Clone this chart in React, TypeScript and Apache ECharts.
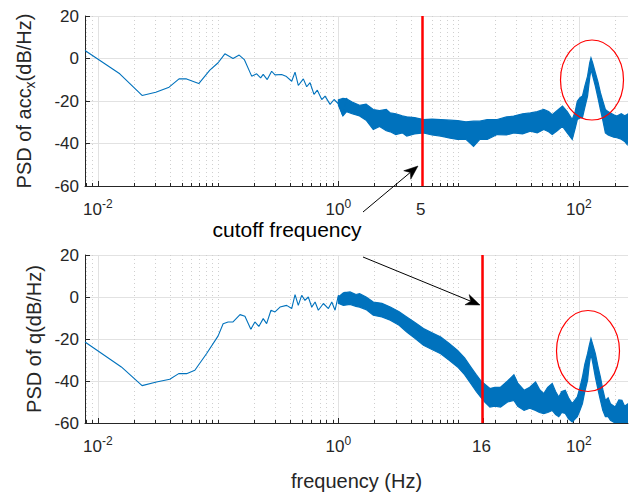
import React, { useEffect, useRef } from 'react';
import * as echarts from 'echarts';

// ---------- data ----------
const F_MIN = 1 / 128;
const F_MAX = 256;
const Y_MIN = -60;
const Y_MAX = 20;
const Y_STEP = 20;

const topTickFreqs = [0.01, 1, 5, 100];
const bottomTickFreqs = [0.01, 1, 16, 100];
const cutoffTop = 5;
const cutoffBottom = 16;

// PSD of acc_x : low-frequency single trace
const accLineF = [0.0078125, 0.0152, 0.0233, 0.0303, 0.0391, 0.0473, 0.0546, 0.069, 0.0853, 0.1, 0.1137, 0.133, 0.1496, 0.165, 0.19, 0.209, 0.2256, 0.237, 0.256, 0.2786, 0.297, 0.337, 0.366, 0.409, 0.436, 0.464, 0.511, 0.545, 0.581, 0.627, 0.668, 0.727, 0.775, 0.853, 0.92, 1.0, 1.087, 1.174];
const accLineDb = [3.8, -7.2, -17.4, -15.9, -13.5, -9.6, -9.6, -11.8, -5.5, -2.0, 2.2, 0, 1.6, -0.5, -8.3, -7.2, -9.1, -7.5, -9.9, -6.0, -7.7, -7.5, -8.3, -10.7, -6.4, -12.7, -9.6, -13.3, -11.4, -16.9, -14.9, -19.3, -17.7, -21.6, -19.3, -21.3, -27, -18.5];
// PSD of acc_x : dense noisy band (lower / upper envelope)
const accBandF = [1.0, 1.09, 1.17, 1.3, 1.5, 1.7, 1.95, 2.2, 2.5, 2.7, 3.0, 3.4, 3.7, 4.3, 5.1, 6.0, 7.1, 8.5, 9.8, 11.5, 13.3, 15, 17.3, 20.9, 25, 28.7, 34, 39.5, 45, 51, 56, 60, 66, 73, 80, 88, 93, 97, 102, 107, 112, 118, 123, 126, 130, 137, 144, 151, 158, 166, 175, 183, 195, 207, 225, 240, 252, 256];
const accBandHi = [-19.5, -18.8, -19, -20.5, -22, -21.5, -24, -24.5, -24, -25.6, -26, -27, -27.4, -27.8, -28.7, -28.5, -28.7, -29, -29.2, -29.8, -29.5, -29.5, -28.7, -28.7, -27.5, -27.1, -26, -25.6, -25, -24, -25, -26.4, -24.5, -22.4, -25, -28.7, -25, -20.1, -18.5, -17.7, -13, -8.3, -2, 0.3, -2, -6.7, -11, -16.1, -20, -24, -25, -25.6, -26.5, -27.1, -26, -27, -26.4, -26];
const accBandLo = [-22, -27, -25, -26, -27, -29, -33.4, -32, -34, -34.5, -35.8, -35, -36.5, -35.5, -35, -36, -36.5, -37.5, -38.1, -38, -41.4, -38, -38.1, -35.8, -36, -35, -35.5, -34.2, -35, -33.4, -34.5, -35.8, -34, -31.9, -35, -38.1, -33, -28.7, -28, -27.9, -23, -17.7, -9, -5.2, -8, -13, -18.5, -24, -29, -35, -36, -36.5, -37, -37.3, -38, -39, -40.5, -38];

// PSD of q : low-frequency single trace
const qLineF = [0.0078125, 0.01567, 0.0233, 0.0307, 0.0396, 0.047, 0.0546, 0.064, 0.08, 0.1, 0.11, 0.121, 0.133, 0.152, 0.167, 0.187, 0.202, 0.218, 0.237, 0.253, 0.275, 0.297, 0.327, 0.371, 0.409, 0.436, 0.464, 0.495, 0.527, 0.562, 0.6, 0.64, 0.681, 0.75, 0.826, 0.881, 0.938, 1.0, 1.066, 1.135, 1.21];
const qLineDb = [-21.4, -33.3, -42.2, -40.5, -39.2, -36.5, -36.5, -34.9, -27, -18.5, -12.7, -11.9, -11.9, -8.4, -9.2, -15.4, -11.9, -14, -10.3, -12.7, -6.3, -7.1, -4.8, -4, -5.5, 1.1, -4, 0.8, -1.6, 0, -4.8, -2.4, -6.3, -3.1, -5.5, -2.4, -6.3, 0.8, -2.4, 2.4, -0.8];
// PSD of q : dense noisy band
const qBandF = [1.0, 1.1, 1.25, 1.4, 1.5, 1.7, 1.95, 2.3, 2.7, 3.2, 3.7, 4.3, 5.1, 6, 7.1, 8.3, 9.8, 11.2, 12.6, 14, 15.2, 16.5, 18.2, 20, 22.3, 25.5, 28.8, 31, 35, 39, 43.6, 47, 51, 55, 60, 64, 68, 72, 77, 82, 88, 97, 102, 107, 112, 118, 122, 126, 131, 137, 144, 151, 158, 166, 175, 183, 200, 215, 228, 240, 256];
const qBandHi = [0, 2, 2.4, 1.2, 1.6, 0, -2.4, -3, -4.8, -7, -9.5, -12, -15, -17, -19, -22, -25.4, -29, -33.3, -37, -39.7, -41.5, -43.6, -43, -42.9, -40, -37, -41, -44.4, -43, -40.5, -44, -46, -43, -41.2, -45, -47.6, -45, -44.4, -48, -50.8, -47.6, -43, -38.1, -32, -27, -23, -19.8, -23, -27, -33, -38.1, -44, -49.2, -48, -50.8, -52.4, -49, -49.2, -52, -50.8];
const qBandLo = [-3, -4, -3.5, -4.5, -4.8, -6, -8.7, -9.5, -11.1, -13.5, -16.7, -19.5, -23, -25, -27, -30, -33.3, -37, -41.2, -45, -47.6, -50, -52.4, -52, -52.4, -50, -49.2, -52, -54, -53, -54, -55, -55.5, -55, -54, -56, -57, -55, -55.5, -58, -59.5, -57, -54, -50.8, -45, -39.7, -32, -27, -32, -38.1, -44, -49.2, -54, -57, -57, -58.7, -60, -60, -60, -60, -60];

// ---------- style ----------
const FONT = '"Liberation Sans", Arial, Helvetica, sans-serif';
const BLUE = '#0072BD';
const AXIS = '#262626';
const GRIDC = '#E2E2E2';
const MINORC = '#CFCFCF';
const RED = '#FF0000';

const lg = (v: number) => Math.log10(v);

const minorFreqs: number[] = [];
for (let d = -3; d <= 2; d++) {
  for (let k = 1; k <= 9; k++) {
    const f = k * Math.pow(10, d);
    if (f > F_MIN && f < F_MAX) minorFreqs.push(f);
  }
}

function pairs(fs: number[], ys: number[]) {
  return fs.map((f, i) => [lg(f), ys[i]]);
}

function tickLabel(v: number) {
  const r = Math.round(v);
  if (Math.abs(v - r) < 1e-6) return `{b|10}{s|${r}}`;
  return `{b|${Math.round(Math.pow(10, v))}}{s| }`;
}

function arrow(x1: number, y1: number, x2: number, y2: number) {
  const dx = x2 - x1, dy = y2 - y1;
  const len = Math.hypot(dx, dy);
  const ux = dx / len, uy = dy / len;
  const nx = -uy, ny = ux;
  const L = 14, W = 5.5, N = 10;
  const bx = x2 - L * ux, by = y2 - L * uy;
  const kx = x2 - N * ux, ky = y2 - N * uy;
  return [
    { type: 'line', z: 20, shape: { x1, y1, x2: kx, y2: ky }, style: { stroke: '#000', lineWidth: 1 } },
    {
      type: 'polygon', z: 20,
      shape: { points: [[x2, y2], [bx + W * nx, by + W * ny], [kx, ky], [bx - W * nx, by - W * ny]] },
      style: { fill: '#000', stroke: '#000', lineWidth: 0.5 },
    },
  ];
}

function xAxes(gridIndex: number, ticks: number[], withName: boolean) {
  const major = ticks.map(lg);
  const minor = minorFreqs.filter((f) => !ticks.some((t) => Math.abs(t - f) < 1e-9)).map(lg);
  return [
    {
      type: 'value', gridIndex, min: lg(F_MIN), max: lg(F_MAX), position: 'bottom',
      axisLine: { show: true, onZero: false, lineStyle: { color: AXIS, width: 1 } },
      axisTick: { show: true, inside: true, length: 5, customValues: major, lineStyle: { color: AXIS } },
      axisLabel: {
        show: true, customValues: major, formatter: tickLabel, margin: 12,
        rich: {
          b: { fontSize: 17, fontFamily: FONT, color: AXIS },
          s: { fontSize: 12, fontFamily: FONT, color: AXIS, padding: [0, 0, 10, 0] },
        },
      },
      splitLine: { show: true, lineStyle: { color: GRIDC, width: 1 } },
      name: withName ? 'frequency (Hz)' : '',
      nameLocation: 'middle', nameGap: 48,
      nameTextStyle: { fontSize: 20, fontFamily: FONT, color: AXIS },
    },
    {
      type: 'value', gridIndex, min: lg(F_MIN), max: lg(F_MAX), position: 'bottom',
      axisLine: { show: false, onZero: false },
      axisTick: { show: true, inside: true, length: 3, customValues: minor, lineStyle: { color: AXIS } },
      axisLabel: { show: false },
      splitLine: { show: true, lineStyle: { color: MINORC, width: 1, type: [1, 3] } },
    },
  ];
}

function yAxis(gridIndex: number, name: string, gap: number) {
  return {
    type: 'value', gridIndex, min: Y_MIN, max: Y_MAX, interval: Y_STEP, position: 'left',
    axisLine: { show: true, onZero: false, lineStyle: { color: AXIS, width: 1 } },
    axisTick: { show: true, inside: true, length: 5, lineStyle: { color: AXIS } },
    axisLabel: { fontSize: 17, fontFamily: FONT, color: AXIS, margin: 6 },
    splitLine: { show: true, lineStyle: { color: GRIDC, width: 1 } },
    name, nameLocation: 'middle', nameRotate: 90, nameGap: gap,
    nameTextStyle: {
      fontSize: 20, fontFamily: FONT, color: AXIS,
      rich: {
        sub: { fontSize: 14, fontFamily: FONT, color: AXIS, padding: [12, 0, 0, 0] },
      },
    },
  };
}

function seriesFor(xi: number, yi: number, lf: number[], ld: number[], bf: number[], blo: number[], bhi: number[], cutoff: number) {
  return [
    {
      type: 'custom', xAxisIndex: xi, yAxisIndex: yi, clip: true, z: 3,
      data: bf.map((f, i) => [lg(f), blo[i], bhi[i]]),
      encode: { x: 0, y: [1, 2] },
      renderItem: (params: any, api: any) => {
        if (params.dataIndex !== 0) return null;
        const n = bf.length;
        const upper: number[][] = [];
        const lower: number[][] = [];
        for (let i = 0; i < n; i++) {
          const x = api.value(0, i);
          upper.push(api.coord([x, api.value(2, i)]));
          lower.push(api.coord([x, api.value(1, i)]));
        }
        const pts = upper.concat(lower.reverse());
        return {
          type: 'polygon',
          shape: { points: pts },
          style: { fill: BLUE, stroke: BLUE, lineWidth: 1.2, lineJoin: 'miter' },
        };
      },
    },
    {
      type: 'line', xAxisIndex: xi, yAxisIndex: yi, data: pairs(lf, ld),
      symbol: 'none', lineStyle: { color: BLUE, width: 1.1 }, z: 4,
      markLine: {
        silent: true, symbol: ['none', 'none'], label: { show: false }, z: 10,
        lineStyle: { color: RED, width: 2.5, type: 'solid' },
        data: [{ xAxis: lg(cutoff) }],
      },
    },
  ];
}

export default function App() {
  const ref = useRef<HTMLDivElement>(null);
  useEffect(() => {
    const chart = echarts.init(ref.current!, null, { renderer: 'svg' });
    const option: any = {
      animation: false,
      backgroundColor: '#ffffff',
      textStyle: { fontFamily: FONT },
      grid: [
        { left: 85, top: 16, width: 543, height: 170 },
        { left: 85, top: 255, width: 543, height: 168 },
      ],
      xAxis: [...xAxes(0, topTickFreqs, false), ...xAxes(1, bottomTickFreqs, true)],
      yAxis: [
        yAxis(0, 'PSD of acc{sub|x}(dB/Hz)', 48),
        yAxis(1, 'PSD of q(dB/Hz)', 37),
      ],
      series: [
        ...seriesFor(0, 0, accLineF, accLineDb, accBandF, accBandLo, accBandHi, cutoffTop),
        ...seriesFor(2, 1, qLineF, qLineDb, qBandF, qBandLo, qBandHi, cutoffBottom),
      ],
      graphic: [
        {
          type: 'text', x: 287, y: 229, z: 20,
          style: { text: 'cutoff frequency', font: `21px ${FONT}`, fill: '#000', align: 'center', verticalAlign: 'middle' },
        },
        ...arrow(363, 212, 418, 166),
        ...arrow(363, 257, 480, 305),
        { type: 'ellipse', z: 20, shape: { cx: 592, cy: 80, rx: 31.5, ry: 40 }, style: { fill: 'none', stroke: RED, lineWidth: 1.2 } },
        { type: 'ellipse', z: 20, shape: { cx: 588, cy: 351, rx: 31.5, ry: 40.5 }, style: { fill: 'none', stroke: RED, lineWidth: 1.2 } },
      ],
    };
    chart.setOption(option);
    return () => chart.dispose();
  }, []);
  return <div ref={ref} style={{ position: 'fixed', left: 0, top: 0, width: 635, height: 494, background: '#fff' }} />;
}
